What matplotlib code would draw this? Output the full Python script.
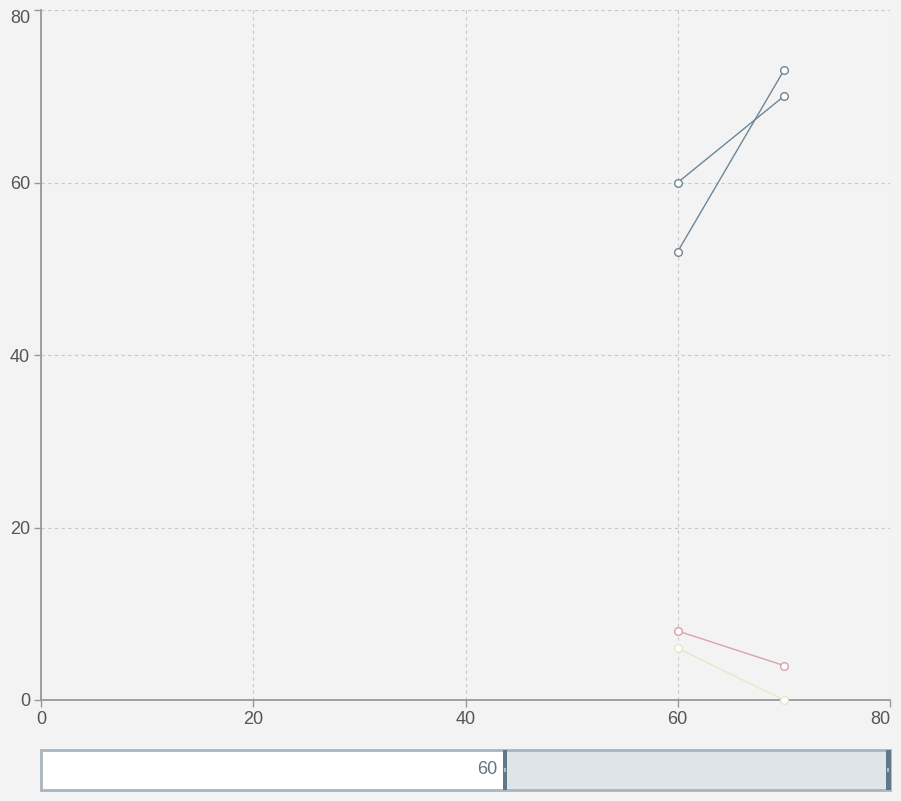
import numpy as np
import matplotlib
matplotlib.use("Agg")
import matplotlib.pyplot as plt
from matplotlib.patches import Rectangle

# data
x_vals = [60, 70]
series_a = [60, 70]
series_b = [52, 73]
series_c = [8, 4]
series_d = [6, 0]
series_colors = ["#6d8697", "#6d8697", "#d9a3a8", "#e8e7c6"]

x_ticks = [0, 20, 40, 60, 80]
y_ticks = [0, 20, 40, 60, 80]
zoom_start = 60
zoom_end = 80

bg = "#f3f3f3"
plt.rcParams["font.family"] = ["Liberation Sans", "DejaVu Sans"]

fig = plt.figure(figsize=(9.01, 8.01), dpi=100, facecolor=bg)
W, H = 901, 801
ax = fig.add_axes([41 / W, (H - 700) / H, (890 - 41) / W, 690 / H])
ax.set_facecolor(bg)

for ys, c in zip([series_a, series_b, series_c, series_d], series_colors):
    ax.plot(x_vals, ys, color=c, linewidth=1, marker="o", markersize=5.5,
            markerfacecolor="white", markeredgecolor=c, markeredgewidth=1,
            zorder=3, clip_on=False)

ax.set_xlim(0, 80)
ax.set_ylim(0, 80)
ax.set_xticks(x_ticks)
ax.set_yticks(y_ticks)
ax.grid(True, linestyle=(0, (3, 3)), color="#c8c8c8", linewidth=0.8)
ax.set_axisbelow(True)

for s in ["top", "right"]:
    ax.spines[s].set_visible(False)
for s in ["left", "bottom"]:
    ax.spines[s].set_color("#999999")
    ax.spines[s].set_linestyle((0, (3, 1)))
    ax.spines[s].set_linewidth(1.3)

ax.tick_params(colors="#999999", labelcolor="#555555", labelsize=13,
               length=5, width=1)
ax.tick_params(axis="x", pad=3)
ax.tick_params(axis="y", pad=3)

# keep edge labels inside the canvas
fig.canvas.draw()
ax.get_yticklabels()[-1].set_va("top")
ax.get_xticklabels()[-1].set_ha("right")

# dataZoom slider
sl = fig.add_axes([41 / W, (H - 790) / H, (890 - 41) / W, 40 / H])
sl.set_xlim(0, 80)
sl.set_ylim(0, 1)
sl.axis("off")
sl.add_patch(Rectangle((0, 0), 80, 1, facecolor="white", edgecolor="none"))
sl.add_patch(Rectangle((43.7, 0), 80 - 43.7, 1, facecolor="#dfe4e8",
                       edgecolor="none"))
sl.add_patch(Rectangle((0, 0), 80, 1, facecolor="none", edgecolor="#a8b5bf",
                       linewidth=2, clip_on=False))
for hx in [43.7, 79.85]:
    sl.add_patch(Rectangle((hx - 0.2, 0), 0.4, 1, facecolor="#5f7787",
                           edgecolor="none", clip_on=False))
    sl.add_patch(Rectangle((hx - 0.1, 0.45), 0.2, 0.1, facecolor="#b0bcc5",
                           edgecolor="none", clip_on=False))
sl.text(43.0, 0.5, str(zoom_start), ha="right", va="center",
        color="#627585", fontsize=13)

fig.savefig("out.png", dpi=100, facecolor=bg)
